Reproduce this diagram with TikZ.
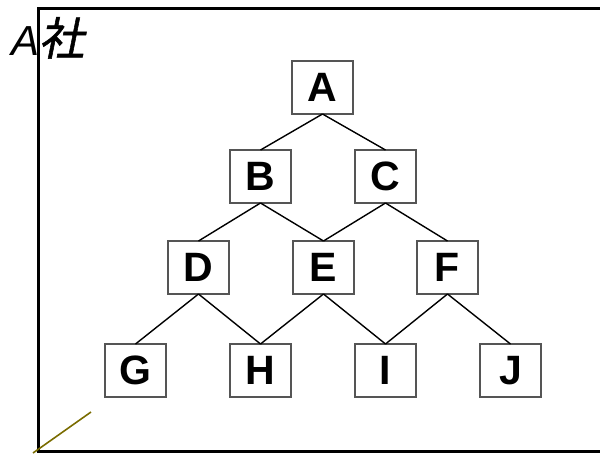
\documentclass[tikz,border=0pt]{standalone}
\usepackage{fontspec}
\setmainfont{Liberation Sans}
\newfontfamily\cjkfont[FakeSlant=0.2,FakeBold=1.2]{Noto Sans CJK JP}
\usetikzlibrary{positioning}

\definecolor{boxgray}{HTML}{555555}
\definecolor{olivine}{HTML}{7A6C00}

\begin{document}
\begin{tikzpicture}[
    x=1pt,y=-1pt,
    box/.style={
        draw=boxgray,
        line width=1.3pt,
        minimum width=61pt,
        minimum height=53pt,
        inner sep=0pt,
        outer sep=0pt,
        fill=white,
        font=\fontsize{41}{41}\selectfont\bfseries
    },
    edge/.style={line width=1.4pt},
    frame/.style={line width=3pt}
]
\useasboundingbox (0,0) rectangle (600,453);

%------------------------------------------------
% Frame and title
%------------------------------------------------

\draw[frame] (600,8) -- (38.5,8) -- (38.5,451.5) -- (600,451.5);

\node[anchor=base west,inner sep=0pt] (title) at (11,55)
{\fontsize{42}{42}\selectfont\itshape A\cjkfont\fontsize{45}{45}\selectfont 社};

\coordinate (corner) at (33,453);
\coordinate (tip) at (91,412);
\draw[olivine,line width=1.6pt] (corner) -- (tip);

%------------------------------------------------
% Tree
%------------------------------------------------

\node[box] (a) at (322.5,87.5) {A};

\node[box,below left=36pt and 1pt of a] (b) {B};
\node[box,below right=36pt and 2pt of a] (c) {C};

\node[box,below left=38pt and 1pt of b] (d) {D};
\node[box,below right=38pt and 2pt of b] (e) {E};
\node[box,below right=38pt and 1pt of c] (f) {F};

\node[box,below left=50pt and 2pt of d] (g) {G};
\node[box,below right=50pt and 1pt of d] (h) {H};
\node[box,below left=50pt and 1pt of f] (i) {I};
\node[box,below right=50pt and 2pt of f] (j) {J};

\foreach \x/\y in {a/b,a/c,b/d,b/e,c/e,c/f,d/g,d/h,e/h,e/i,f/i,f/j}
\draw[edge] (\x.south)--(\y.north);

\end{tikzpicture}
\end{document}
